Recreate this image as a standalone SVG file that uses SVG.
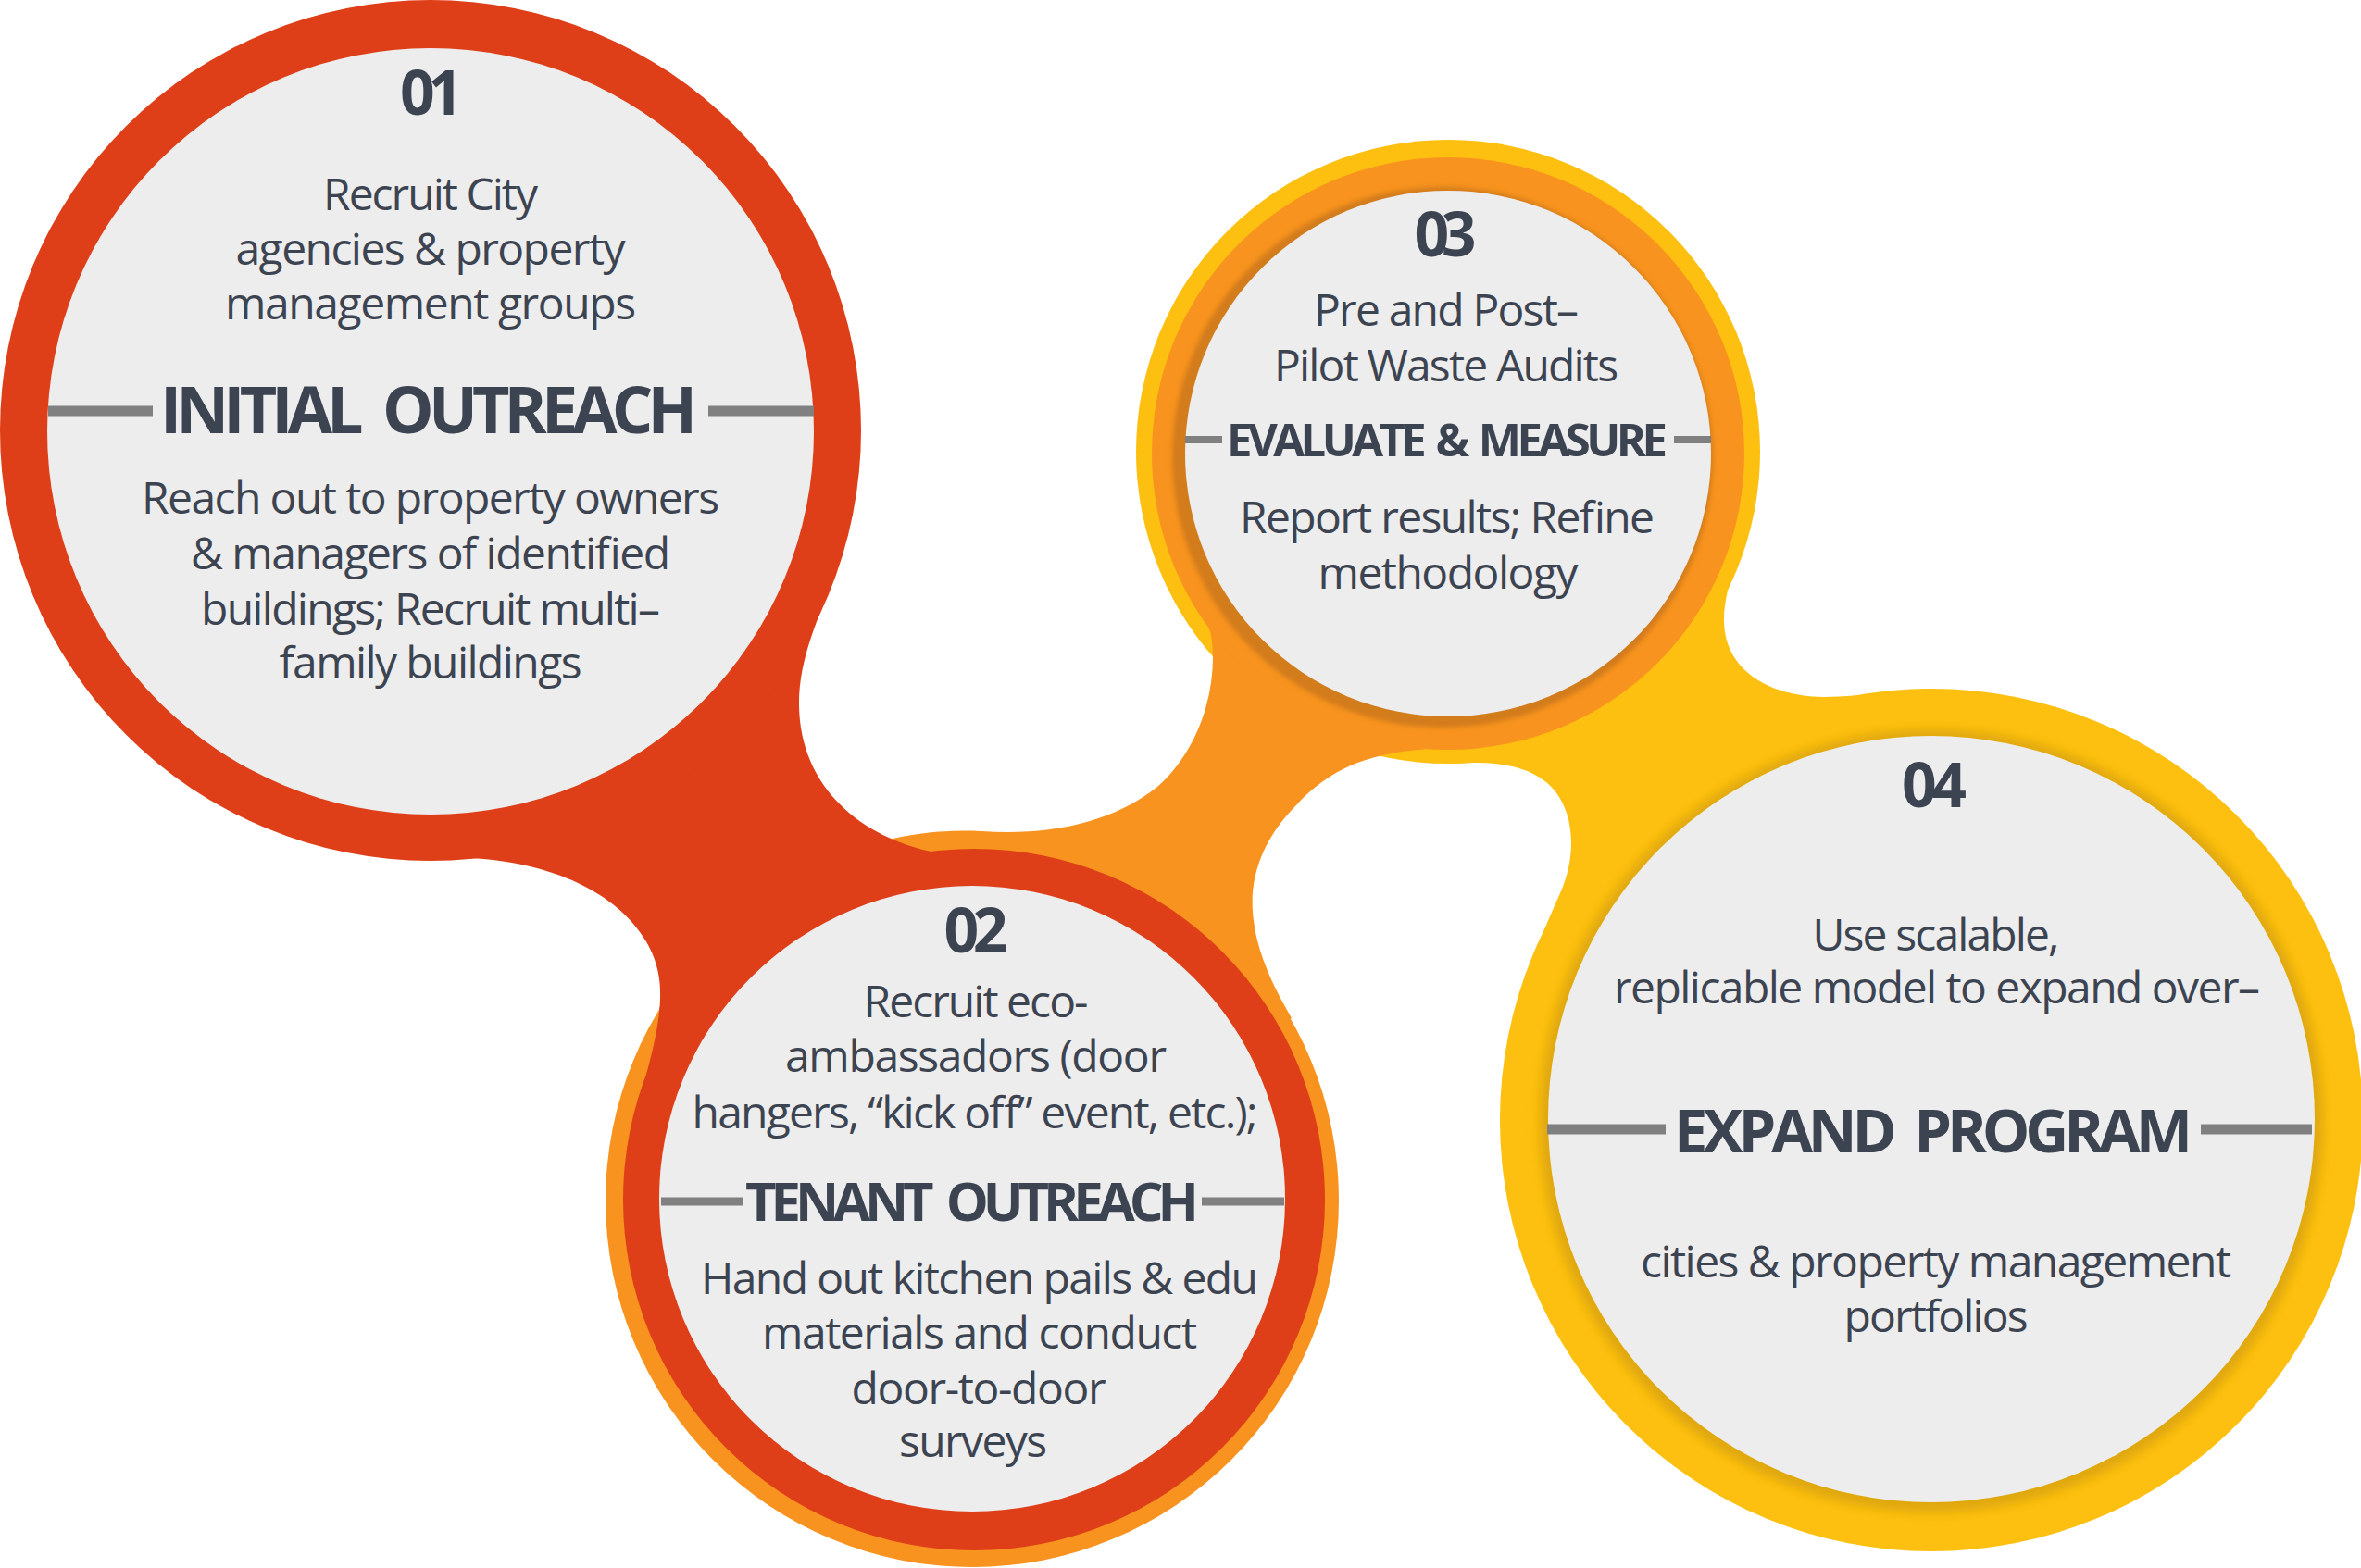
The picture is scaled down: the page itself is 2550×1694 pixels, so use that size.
<svg xmlns="http://www.w3.org/2000/svg" width="2550" height="1694" viewBox="0 0 2550 1694">
<defs>
<style>
.red{fill:#de3f18}
.orange{fill:#f7931e}
.yellow{fill:#fdc010}
.disc{fill:#ededed}
text{font-family:'Open Sans','Liberation Sans',sans-serif;fill:#3d4451;text-anchor:middle}
.num{font-size:66px;font-weight:700}
.body{font-size:48px;font-weight:400}
.head{font-weight:700}
.rule{stroke:#808080;fill:none}
</style>
<filter id="soft3" x="-10%" y="-10%" width="120%" height="120%"><feGaussianBlur stdDeviation="2.5"/></filter>
<filter id="soft6" x="-10%" y="-10%" width="120%" height="120%"><feGaussianBlur stdDeviation="6"/></filter>
<clipPath id="clip3"><circle cx="1564" cy="488" r="338"/></clipPath>
<clipPath id="clip2"><circle cx="1050" cy="1297" r="397"/></clipPath>
</defs>
<rect width="2550" height="1694" fill="#ffffff"/>

<g id="connectors">
<path id="bridge-34" class="yellow" d="M 1895 530 C 1885 590 1862 630 1862 670 C 1862 720 1905 752 1970 753 C 2010 753 2045 746 2086 744 L 2086 1210 L 1624 1165 C 1635 1080 1665 1010 1685 965 C 1705 920 1700 870 1670 845 C 1645 825 1610 822 1564 825 L 1564 488 Z"/>
<path id="bridge-23" class="orange" d="M 930 915 C 980 900 1020 896 1060 898 C 1130 903 1200 890 1250 850 C 1290 815 1310 760 1310 710 C 1310 680 1302 660 1288 645 L 1564 490 L 1565 808 C 1500 810 1445 820 1400 870 C 1365 905 1350 945 1353 985 C 1356 1025 1372 1060 1395 1100 L 1050 1297 Z"/>
<path id="bridge-12" class="red" d="M 903 618 C 885 665 863 710 863 760 C 863 850 930 905 1010 921 L 1052 1296 L 688 1195 C 705 1140 714 1100 713 1070 C 712 1000 640 935 510 927 L 465 465 Z"/>
</g>

<g id="node-1">
<circle class="red" cx="465" cy="465" r="465"/>
<circle class="disc" cx="465" cy="466" r="414"/>
<line class="rule" x1="52" y1="444" x2="165" y2="444" stroke-width="11"/>
<line class="rule" x1="765" y1="444" x2="879" y2="444" stroke-width="11"/>
<text class="num" x="466" y="124" textLength="68">01</text>
<text class="body" x="465" y="227" textLength="232">Recruit City</text>
<text class="body" x="465" y="286" textLength="421">agencies &amp; property</text>
<text class="body" x="465" y="345" textLength="444">management groups</text>
<text class="head" x="463" y="468" font-size="70" word-spacing="14" textLength="580">INITIAL OUTREACH</text>
<text class="body" x="465" y="555" textLength="624">Reach out to property owners</text>
<text class="body" x="465" y="615" textLength="518">&amp; managers of identified</text>
<text class="body" x="465" y="675" textLength="496">buildings; Recruit multi–</text>
<text class="body" x="465" y="733" textLength="327">family buildings</text>
</g>

<g id="node-2">
<circle class="orange" cx="1050" cy="1297" r="396"/>
<use href="#bridge-12" clip-path="url(#clip2)"/>
<circle class="red" cx="1052" cy="1296" r="379"/>
<circle class="disc" cx="1050" cy="1295" r="338"/>
<line class="rule" x1="714" y1="1298" x2="803" y2="1298" stroke-width="9"/>
<line class="rule" x1="1298" y1="1298" x2="1387" y2="1298" stroke-width="9"/>
<text class="num" x="1054" y="1029" textLength="69">02</text>
<text class="body" x="1054" y="1099" textLength="243">Recruit eco-</text>
<text class="body" x="1054" y="1158" textLength="412">ambassadors (door</text>
<text class="body" x="1053" y="1219" textLength="611">hangers, “kick off” event, etc.);</text>
<text class="head" x="1050" y="1319" font-size="58" word-spacing="10" textLength="490">TENANT OUTREACH</text>
<text class="body" x="1058" y="1398" textLength="602">Hand out kitchen pails &amp; edu</text>
<text class="body" x="1058" y="1457" textLength="470">materials and conduct</text>
<text class="body" x="1057" y="1517" textLength="275">door-to-door</text>
<text class="body" x="1051" y="1574" textLength="160">surveys</text>
</g>

<g id="node-3">
<circle class="yellow" cx="1564" cy="488" r="337"/>
<use href="#bridge-23" clip-path="url(#clip3)"/>
<circle class="orange" cx="1564" cy="490" r="320"/>
<circle cx="1558" cy="494" r="292" fill="#d37b1a" filter="url(#soft3)"/>
<circle class="disc" cx="1564" cy="490" r="284"/>
<line class="rule" x1="1280" y1="475" x2="1320" y2="475" stroke-width="8"/>
<line class="rule" x1="1808" y1="475" x2="1848" y2="475" stroke-width="8"/>
<text class="num" x="1561" y="277" textLength="67">03</text>
<text class="body" x="1562" y="352" font-size="46" textLength="286">Pre and Post–</text>
<text class="body" x="1562" y="412" font-size="46" textLength="372">Pilot Waste Audits</text>
<text class="head" x="1563" y="493" font-size="49" word-spacing="6" textLength="476">EVALUATE &amp; MEASURE</text>
<text class="body" x="1563" y="576" font-size="46" textLength="448">Report results; Refine</text>
<text class="body" x="1564" y="636" font-size="46" textLength="281">methodology</text>
</g>

<g id="node-4">
<circle class="yellow" cx="2086" cy="1210" r="466"/>
<circle cx="2086" cy="1211" r="423" fill="#dfa70f" filter="url(#soft6)"/>
<circle class="disc" cx="2086" cy="1209" r="414"/>
<line class="rule" x1="1671" y1="1220" x2="1799" y2="1220" stroke-width="11"/>
<line class="rule" x1="2377" y1="1220" x2="2497" y2="1220" stroke-width="11"/>
<text class="num" x="2089" y="872" textLength="70">04</text>
<text class="body" x="2091" y="1027" textLength="267">Use scalable,</text>
<text class="body" x="2092" y="1084" textLength="698">replicable model to expand over–</text>
<text class="head" x="2088" y="1245" font-size="65" word-spacing="12" textLength="560">EXPAND PROGRAM</text>
<text class="body" x="2091" y="1380" textLength="638">cities &amp; property management</text>
<text class="body" x="2091" y="1439" textLength="199">portfolios</text>
</g>
</svg>
